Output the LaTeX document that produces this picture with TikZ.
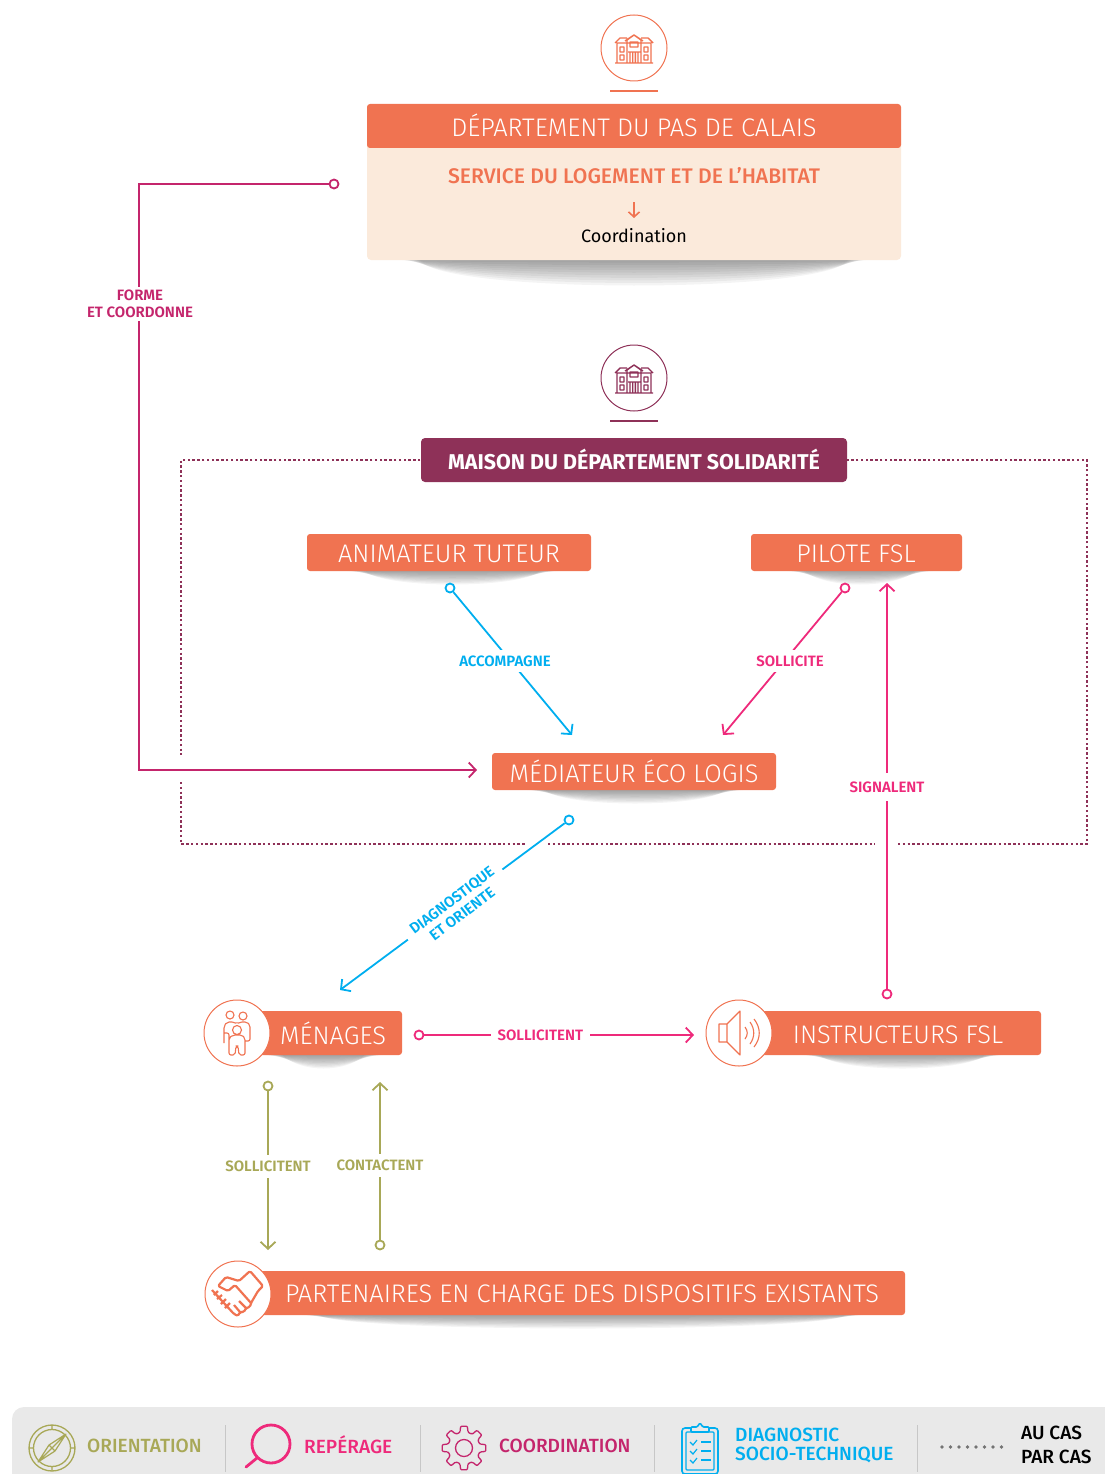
\documentclass[tikz,border=0pt]{standalone}
\usepackage{fontspec}
\setmainfont{Fira Sans}
\newfontfamily\lightfont{Fira Sans Light}
\newfontfamily\mediumfont{Fira Sans Medium}
\newfontfamily\semifont{Fira Sans SemiBold}
\usetikzlibrary{arrows.meta}

\definecolor{orangeband}{HTML}{F07351}
\definecolor{palebox}{HTML}{FBEADB}
\definecolor{purplemds}{HTML}{8E3158}
\definecolor{coordcol}{HTML}{C4256C}
\definecolor{reperecol}{HTML}{EE2A7B}
\definecolor{diagcol}{HTML}{00AEEF}
\definecolor{oriencol}{HTML}{A8A857}
\definecolor{legendbg}{HTML}{E9E9E9}

\tikzset{
  x=1pt, y=-1pt,
  >={Straight Barb[length=7pt,width=15pt]},
  band/.style={fill=orangeband, rounded corners=3pt},
  bandtext/.style={text=white, font=\lightfont\fontsize{25.4}{25.4}\selectfont, inner sep=0pt},
  disc/.style={circle, draw=#1, fill=white, line width=1pt, minimum size=66pt, inner sep=0pt},
  enddot/.style={circle, draw=#1, fill=white, line width=1.8pt, minimum size=9pt, inner sep=0pt},
  lbl/.style={fill=white, font=\semifont\fontsize{15}{17}\selectfont, align=center, inner xsep=7pt, inner ysep=6pt, text=#1},
  lnk/.style={draw=#1, line width=1.8pt},
  legtext/.style={font=\mediumfont\fontsize{19.1}{22}\selectfont, text=#1, inner sep=0pt},
  sep/.style={draw=black!22, line width=1pt},
  mdsdots/.style={draw=purplemds, line width=2.6pt, dash pattern=on 2.4pt off 2.4pt},
  pics/building/.style={code={
    \draw[#1, line width=1.4pt, line join=round]
      (-19,14) -- (19,14)
      (-17,14) -- (-17,-6) -- (17,-6) -- (17,14)
      (-19,-6) -- (-14,-11) -- (-7,-11) (7,-11) -- (14,-11) -- (19,-6)
      (-7,14) -- (-7,-9) -- (0,-14) -- (7,-9) -- (7,14)
      (-9,-8) -- (0,-14) -- (9,-8)
      (-4,-7) rectangle (4,-2)
      (-6,3) -- (6,3)
      (-4,3) -- (-4,14) (-1.3,3) -- (-1.3,14) (1.3,3) -- (1.3,14) (4,3) -- (4,14)
      (-14,-2) rectangle (-10,3) (10,-2) rectangle (14,3)
      (-14,6) rectangle (-10,11) (10,6) rectangle (14,11);
  }},
  pics/family/.style={code={
    \draw[orangeband, line width=1.1pt, line join=round, rounded corners=2pt]
      (-7,-16) circle (4) (6,-15) circle (4)
      (-13,12) -- (-13,-5) -- (-10,-9) -- (-3,-9) -- (0,-7) -- (3,-9) -- (10,-9) -- (13,-6) -- (13,10) -- (8,10)
      (-13,2) -- (-8,2) -- (-8,12)
      (-8,24) -- (-8,7) -- (-4,4) -- (5,4) -- (8,7) -- (8,24) -- (2,24) -- (1,15) -- (-1,15) -- (-2,24) -- cycle
      (0,-1) circle (4.5);
  }},
  pics/speaker/.style={code={
    \draw[orangeband, line width=1.1pt, line join=round]
      (-20,-9) -- (-12,-9) -- (1,-22) -- (1,22) -- (-12,9) -- (-20,9) -- cycle
      (-12,-9) -- (-12,9)
      (6,-6) .. controls (9,-2) and (9,2) .. (6,6)
      (11,-11) .. controls (16,-4) and (16,4) .. (11,11)
      (15,-14) .. controls (22,-5) and (22,5) .. (15,14);
  }},
  pics/handshake/.style={code={
    \draw[orangeband, line width=2.2pt, line join=round, rounded corners=1.5pt]
      (-26,-4) -- (-4,20) -- (0,22) -- (2,18) -- (6,18) -- (8,14) -- (12,13) -- (13,9) -- (20,-3) -- (25,-8) -- (12,-23) -- (1,-13) -- (-12,-17) -- (-20,-8) -- (-10,-3) -- (-3,-9) -- (13,9)
      (-24,1) -- (-20,-3) (-21,5) -- (-16,1) (-17,10) -- (-12,5) (-13,14) -- (-8,9)
      (2,18) -- (-4,11) (8,14) -- (1,7);
  }},
  pics/compass/.style={code={
    \draw[oriencol, line width=1.3pt] (0,0) circle (23) (0,0) circle (18.5)
      (0,-23) -- (0,-18.5) (0,23) -- (0,18.5) (-23,0) -- (-18.5,0) (23,0) -- (18.5,0);
    \draw[oriencol, line width=1.2pt, line join=round]
      (14,-14) -- (3,-3) -- (-14,14) -- (-3,3) -- cycle (-3,-3) -- (3,3) (14,-14) -- (-3,-3) (14,-14) -- (3,3) -- (-14,14) -- (-3,-3);
  }},
  pics/gear/.style={code={
    \draw[coordcol, line width=1.3pt] (0,0) circle (8.5);
    \foreach \a in {0,45,...,315} {
      \draw[coordcol, line width=1.3pt, line join=round, rotate=\a, rounded corners=1pt]
        (-13:17) -- (-9:22) -- (9:22) -- (13:17) -- (22.5:15.5) -- (32:17);
    }
  }},
  pics/clipboard/.style={code={
    \draw[diagcol, line width=1.6pt, rounded corners=3pt] (-18,-20) rectangle (18,26);
    \draw[diagcol, line width=1.2pt, rounded corners=1pt, fill=legendbg] (-14,-16) rectangle (14,22);
    \draw[diagcol, line width=1.6pt, fill=legendbg, rounded corners=1pt]
      (-9,-16) -- (-9,-21) -- (-3,-21) -- (0,-25) -- (3,-21) -- (9,-21) -- (9,-16) -- cycle;
    \foreach \yy in {-6,3,12} {
      \draw[diagcol, line width=1.2pt] (-10,\yy) -- (-7,\yy+3) -- (-3,\yy-2);
      \draw[diagcol, line width=1.6pt] (1,\yy) -- (11,\yy);
    }
  }},
}
\newcommand{\lens}[4]{
  \foreach \k in {1,...,10}
    \fill[black, opacity=.045] (#1+2*\k,#3) .. controls (#1+40,#3+#4*\k/10) and (#2-40,#3+#4*\k/10) .. (#2-2*\k,#3) -- cycle;
}

\begin{document}
\begin{tikzpicture}

\useasboundingbox (0,0) rectangle (1104,1474);

\coordinate (tipMed) at (477,770);
\coordinate (cornerA) at (139,184);
\coordinate (cornerB) at (139,770);
\coordinate (tipAcc) at (572,735);
\coordinate (tipSol) at (723,735);
\coordinate (tipSig) at (887,583);
\coordinate (tipDia) at (340,990);
\coordinate (tipInst) at (694,1035);
\coordinate (tipPart) at (268,1250);
\coordinate (tipMen) at (380,1082);

% legend
\fill[legendbg, rounded corners=12pt] (12,1500) |- (1130,1407) |- cycle;
\draw[sep] (225,1425) -- (225,1472);
\draw[sep] (420,1425) -- (420,1472);
\draw[sep] (654,1425) -- (654,1472);
\draw[sep] (917,1425) -- (917,1472);
\pic at (52,1448) {compass};
\node[legtext=oriencol, anchor=west] (legOr) at (87,1446) {ORIENTATION};
\draw[reperecol, line width=2.8pt, line cap=round] (271,1444) circle (19) (257,1458) -- (246,1467);
\node[legtext=reperecol, anchor=west] (legRe) at (304,1445) {REPÉRAGE};
\pic at (464,1448) {gear};
\node[legtext=coordcol, anchor=west] (legCo) at (499,1446) {COORDINATION};
\pic at (700,1448) {clipboard};
\node[legtext=diagcol, anchor=west] (legDa) at (735,1435) {DIAGNOSTIC};
\node[legtext=diagcol, anchor=west] (legDb) at (735,1455) {SOCIO-TECHNIQUE};
\foreach \n in {0,...,7}
  \fill[black!55] (942+8.5*\n,1447) circle (1.8);
\node[legtext=black, anchor=west] (legCa) at (1021,1433) {AU CAS};
\node[legtext=black, anchor=west] (legCb) at (1021,1457) {PAR CAS};

% shadows
\lens{400}{868}{260}{34}
\lens{345}{560}{571}{18}
\lens{785}{935}{571}{18}
\lens{525}{745}{790}{18}
\lens{262}{385}{1055}{18}
\lens{800}{1005}{1055}{18}
\lens{300}{865}{1315}{18}

% departement
\node[disc=orangeband] (discDep) at (634,48) {};
\pic at (634,49) {building=orangeband};
\draw[orangeband, line width=1.6pt] (610,91) -- (658,91);
\fill[palebox, rounded corners=4pt] (367,125) rectangle (901,260);
\fill[band] (367,104) rectangle (901,148);
\node[bandtext] (dep) at (634,125) {DÉPARTEMENT DU PAS DE CALAIS};
\node[font=\mediumfont\fontsize{21.1}{21.1}\selectfont, text=orangeband, inner sep=0pt] (service) at (634,176) {SERVICE DU LOGEMENT ET DE L’HABITAT};
\node[font=\fontsize{18}{18}\selectfont, inner sep=0pt, text=black] (coord) at (634,236) {Coordination};
\draw[orangeband, line width=1.6pt, ->, >={Straight Barb[length=5pt,width=11pt]}] (service) ++(0,26) -- ++(0,16);

% maison du departement
\node[disc=purplemds] (discMds) at (634,378) {};
\pic at (634,379) {building=purplemds};
\draw[purplemds, line width=1.6pt] (610,421) -- (658,421);
\draw[mdsdots] (430,460) -- (181,460) -- (181,755);
\draw[mdsdots] (181,782) -- (181,844) -- (525,844);
\draw[mdsdots] (548,844) -- (875,844);
\draw[mdsdots] (898,844) -- (1087,844) -- (1087,460) -- (840,460);
\fill[purplemds, rounded corners=4pt] (421,438) rectangle (847,482);
\node[text=white, font=\bfseries\fontsize{21.4}{21.4}\selectfont, inner sep=0pt] (mds) at (634,459) {MAISON DU DÉPARTEMENT SOLIDARITÉ};

\fill[band] (307,534) rectangle (591,571);
\node[bandtext] (anim) at (449,554) {ANIMATEUR TUTEUR};
\fill[band] (751,534) rectangle (962,571);
\node[bandtext] (pilote) at (856,554) {PILOTE FSL};
\fill[band] (492,753) rectangle (776,790);
\node[bandtext] (med) at (634,771) {MÉDIATEUR ÉCO LOGIS};

% menages et autres
\fill[band] (240,1011) rectangle (402,1055);
\node[bandtext] (men) at (333,1033) {MÉNAGES};
\node[disc=orangeband] (discMen) at (237,1033) {};
\pic at (237,1031) {family};
\fill[band] (740,1011) rectangle (1041,1055);
\node[bandtext] (inst) at (898,1035) {INSTRUCTEURS FSL};
\node[disc=orangeband] (discInst) at (739,1033) {};
\pic at (739,1033) {speaker};
\fill[band] (240,1271) rectangle (905,1315);
\node[bandtext] (part) at (582,1294) {PARTENAIRES EN CHARGE DES DISPOSITIFS EXISTANTS};
\node[disc=orangeband] (discPart) at (238,1294) {};
\pic at (238,1294) {handshake};

% connectors
\node[enddot=coordcol] (dotForme) at (334,184) {};
\draw[lnk=coordcol, ->] (dotForme) -- (cornerA) -- (cornerB) -- (tipMed);
\node[lbl=coordcol, inner ysep=3pt] (forme) at (140,304) {FORME\\ET COORDONNE};

\node[enddot=diagcol] (dotAcc) at (450,588) {};
\draw[lnk=diagcol, ->] (dotAcc) -- (tipAcc);
\node[lbl=diagcol] (acc) at (505,661) {ACCOMPAGNE};

\node[enddot=reperecol] (dotSol) at (845,588) {};
\draw[lnk=reperecol, ->] (dotSol) -- (tipSol);
\node[lbl=reperecol] (sol) at (790,661) {SOLLICITE};

\node[enddot=reperecol] (dotSig) at (887,994) {};
\draw[lnk=reperecol, ->] (dotSig) -- node[lbl=reperecol, pos=.497, inner ysep=9pt] (sig) {SIGNALENT} (tipSig);

\node[enddot=diagcol] (dotDia) at (569,820) {};
\draw[lnk=diagcol, ->] (dotDia) -- (tipDia);
\node[lbl=diagcol, rotate=37, inner xsep=8pt, inner ysep=2pt] (dia) at (457,907) {DIAGNOSTIQUE\\ET ORIENTE};

\node[enddot=reperecol] (dotInst) at (419,1035) {};
\draw[lnk=reperecol, ->] (dotInst) -- node[lbl=reperecol, pos=.43] (solb) {SOLLICITENT} (tipInst);

\node[enddot=oriencol] (dotPart) at (268,1086) {};
\draw[lnk=oriencol, ->] (dotPart) -- node[lbl=oriencol, pos=.475] (solc) {SOLLICITENT} (tipPart);

\node[enddot=oriencol] (dotMen) at (380,1245) {};
\draw[lnk=oriencol, ->] (dotMen) -- node[lbl=oriencol, pos=.47] (cont) {CONTACTENT} (tipMen);

\end{tikzpicture}
\end{document}
